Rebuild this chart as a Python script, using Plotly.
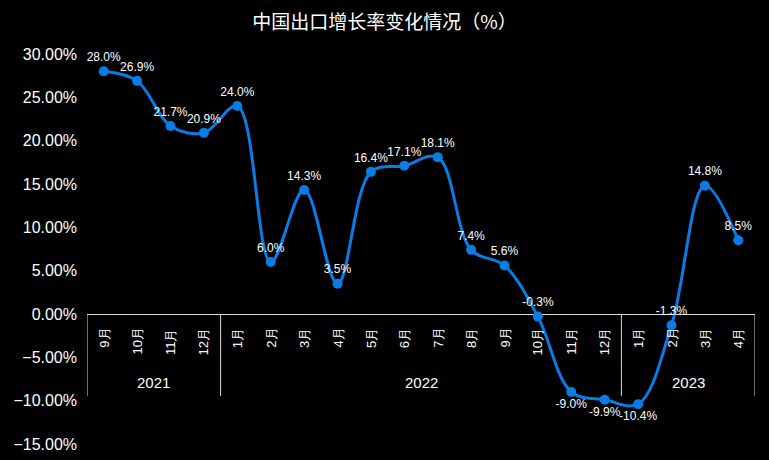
import plotly.graph_objects as go

months = ["9月", "10月", "11月", "12月",
          "1月", "2月", "3月", "4月", "5月", "6月", "7月", "8月", "9月", "10月", "11月", "12月",
          "1月", "2月", "3月", "4月"]
years = ["2021", "2022", "2023"]
year_counts = [4, 12, 4]
values = [28.0, 26.9, 21.7, 20.9,
          24.0, 6.0, 14.3, 3.5, 16.4, 17.1, 18.1, 7.4, 5.6, -0.3, -9.0, -9.9,
          -10.4, -1.3, 14.8, 8.5]
y_ticks = [30, 25, 20, 15, 10, 5, 0, -5, -10, -15]

x = list(range(len(months)))
yv = [v / 100 for v in values]
labels = [f"{v:.1f}%" for v in values]
positions = ["bottom center" if v < -5 else "top center" for v in values]

fig = go.Figure()
fig.add_trace(go.Scatter(
    x=x, y=yv, mode="lines+markers+text",
    line=dict(color="#0a7ce6", width=3, shape="spline", smoothing=1),
    marker=dict(color="#0a7ce6", size=10),
    text=labels, textposition=positions,
    textfont=dict(color="white", size=12, family="Liberation Sans, Arial"),
    cliponaxis=False, hoverinfo="skip",
))

annotations = []
for i, m in enumerate(months):
    annotations.append(dict(
        x=i, y=0, xref="x", yref="y", text=m, showarrow=False,
        textangle=-90, xanchor="center", yanchor="top", yshift=-12,
        font=dict(color="white", size=13, family="Liberation Sans, Arial"),
    ))

shapes = []
start = 0
bounds = [-0.5]
for yr, c in zip(years, year_counts):
    mid = start + (c - 1) / 2
    annotations.append(dict(
        x=mid, y=-0.0796, xref="x", yref="y", text=yr, showarrow=False,
        xanchor="center", yanchor="middle",
        font=dict(color="white", size=15, family="Liberation Sans, Arial"),
    ))
    start += c
    bounds.append(start - 0.5)

for b in bounds:
    shapes.append(dict(type="line", xref="x", yref="y", x0=b, x1=b, y0=0, y1=-0.0946,
                       line=dict(color="#d9d9d9", width=1)))

fig.update_layout(
    width=769, height=460,
    paper_bgcolor="black", plot_bgcolor="black",
    margin=dict(l=87, r=14, t=54, b=16, autoexpand=False),
    title=dict(text="中国出口增长率变化情况（%）", x=0.5, xanchor="center", y=0.952, yanchor="middle",
               font=dict(color="white", size=19, family="Noto Sans CJK SC")),
    xaxis=dict(range=[-0.5, len(months) - 0.5], showgrid=False, zeroline=False,
               showticklabels=False, showline=False, fixedrange=True, automargin=False),
    yaxis=dict(range=[-0.15, 0.30], tickvals=[t / 100 for t in y_ticks], tickformat=".2%",
               showgrid=False, zeroline=True, zerolinecolor="#d9d9d9", zerolinewidth=1,
               showline=False, ticks="", ticklen=0, ticklabelstandoff=9, automargin=False,
               tickfont=dict(color="white", size=16, family="Liberation Sans, Arial")),
    annotations=annotations, shapes=shapes, showlegend=False,
)

fig.write_html("out.html")
